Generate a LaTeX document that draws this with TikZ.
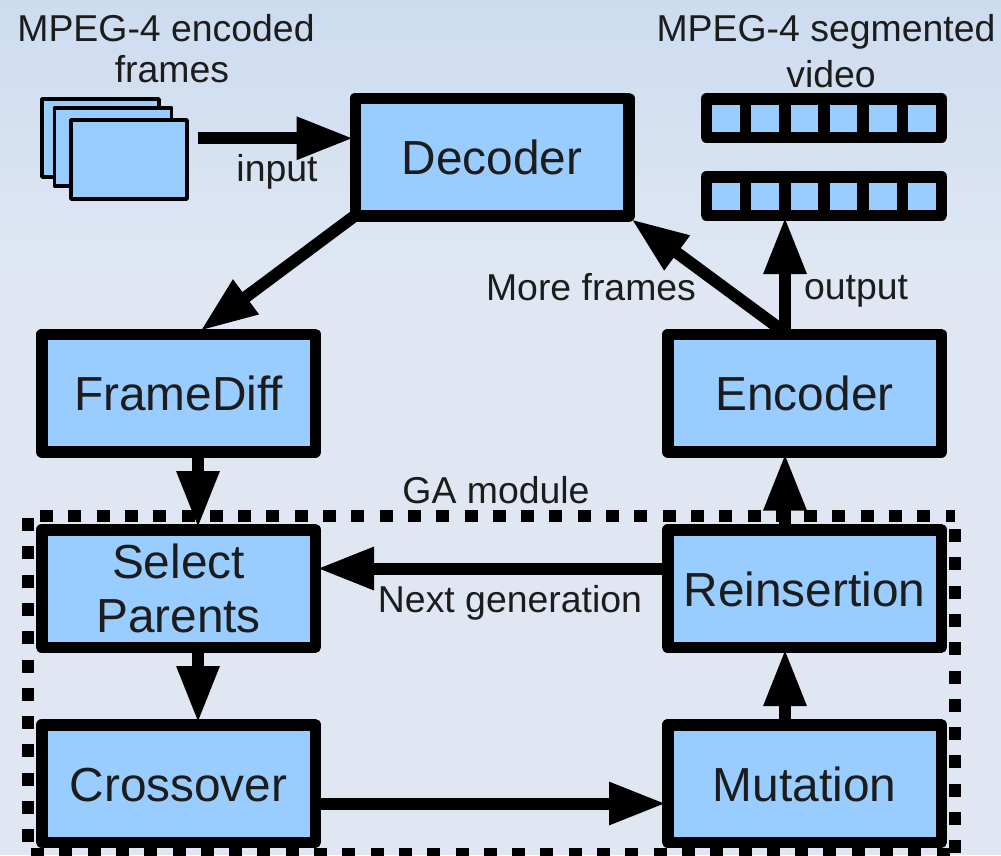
\documentclass[tikz,border=0pt]{standalone}
\usepackage{fontspec}
\setmainfont{Liberation Sans}
\usepackage{tikz}
\usetikzlibrary{arrows.meta}
\definecolor{boxblue}{HTML}{99CCFF}
\definecolor{pagetop}{HTML}{CCDCEF}
\definecolor{pagelow}{HTML}{E0E7F3}
\definecolor{inktext}{HTML}{1C1C1C}
\tikzset{
	blockbox/.style={draw=black, fill=boxblue, line width=11.5pt, line join=round, minimum width=273.5pt, minimum height=117.5pt, inner sep=0pt, align=center, text=inktext, font=\fontsize{47.8}{54}\selectfont},
	onerow/.style={text height=35pt, text depth=0pt},
	framebox/.style={draw=black, fill=boxblue, line width=3.5pt, line join=round, inner sep=0pt},
	cellbox/.style={draw=black, fill=boxblue, line width=11.5pt, line join=round, minimum width=39.17pt, minimum height=38.5pt, inner sep=0pt},
	flow/.style={line width=12pt, shorten >=-4pt, -{Triangle[length=57pt,width=40pt]}},
	caption/.style={text=inktext, inner sep=0pt, font=\fontsize{37.4}{41}\selectfont},
	gadots/.style={line width=12pt, dash pattern=on 13pt off 15.3pt},
}
\begin{document}
\begin{tikzpicture}[x=1pt,y=-1pt]
	\useasboundingbox (0,0) rectangle (1001,855);
	\shade[top color=pagetop, bottom color=pagelow] (0,0) rectangle (1001,280);
	\fill[pagelow] (0,280) rectangle (1001,855);
	%
	\draw[gadots] (40,516) -- (955,516);
	\draw[gadots] (28,518) -- (28,855);
	\draw[gadots] (955,529) -- (955,855);
	\draw[gadots] (31,854) -- (950,854);
	%
	\node[framebox, minimum width=117pt, minimum height=78pt] (frameA) at (100.5,138) {};
	\node[framebox, minimum width=117pt, minimum height=78pt] (frameB) at (113,147) {};
	\node[framebox, minimum width=116pt, minimum height=79pt] (frameC) at (129,159.5) {};
	%
	\foreach \i in {1,...,6} {
		\node[cellbox] (stripA\i) at ({706.5+(\i-0.5)*39.17},118) {};
		\node[cellbox] (stripB\i) at ({706.5+(\i-0.5)*39.17},196) {};
	}
	%
	\node[blockbox, onerow] (decoder) at (492,157) {Decoder};
	\node[blockbox, onerow] (framediff) at (178.5,393) {FrameDiff};
	\node[blockbox, onerow] (encoder) at (804.5,393) {Encoder};
	\node[blockbox] (select) at (178.5,588.5) {Select\\Parents};
	\node[blockbox, onerow] (crossover) at (178.5,783.5) {Crossover};
	\node[blockbox, onerow] (reinsertion) at (804.5,588.5) {Reinsertion};
	\node[blockbox, onerow] (mutation) at (804.5,783.5) {Mutation};
	%
	\coordinate (inputstart) at ([xshift=9pt,yshift=-20pt]frameC.north east);
	\coordinate (encout) at ([xshift=-19.5pt]encoder.north);
	\draw[flow] (inputstart) -- (inputstart -| decoder.west);
	\draw[flow] ([xshift=7pt,yshift=7pt]decoder.south west) -- ([xshift=25pt]framediff.north);
	\draw[flow] ([yshift=-4pt]encout) -- (decoder.south east);
	\draw[flow] (encout) -- (encout |- stripB3.south);
	\draw[flow] ([xshift=19.5pt]framediff.south) -- ([xshift=19.5pt]select.north);
	\draw[flow] ([xshift=19.5pt]select.south) -- ([xshift=19.5pt]crossover.north);
	\draw[flow] ([yshift=-20pt]crossover.east) -- ([yshift=-20pt]mutation.west);
	\draw[flow] ([xshift=-19.5pt]mutation.north) -- ([xshift=-19.5pt]reinsertion.south);
	\draw[flow] ([xshift=-19.5pt]reinsertion.north) -- ([xshift=-19.5pt]encoder.south);
	\draw[flow] ([yshift=20pt]reinsertion.west) -- ([yshift=20pt]select.east);
	%
	\node[caption] (srclabel) at (166,28) {MPEG-4 encoded};
	\node[caption] (srclabelb) at (172,69) {frames};
	\node[caption] (dstlabel) at (826,32) {MPEG-4 segmented};
	\node[caption] (dstlabelb) at (831,74) {video};
	\node[caption] (inputlabel) at (277,172) {input};
	\node[caption] (morelabel) at (591,287) {More frames};
	\node[caption] (outputlabel) at (856,291) {output};
	\node[caption] (galabel) at (496,490) {GA module};
	\node[caption] (nextlabel) at (510,603) {Next generation};
\end{tikzpicture}
\end{document}
